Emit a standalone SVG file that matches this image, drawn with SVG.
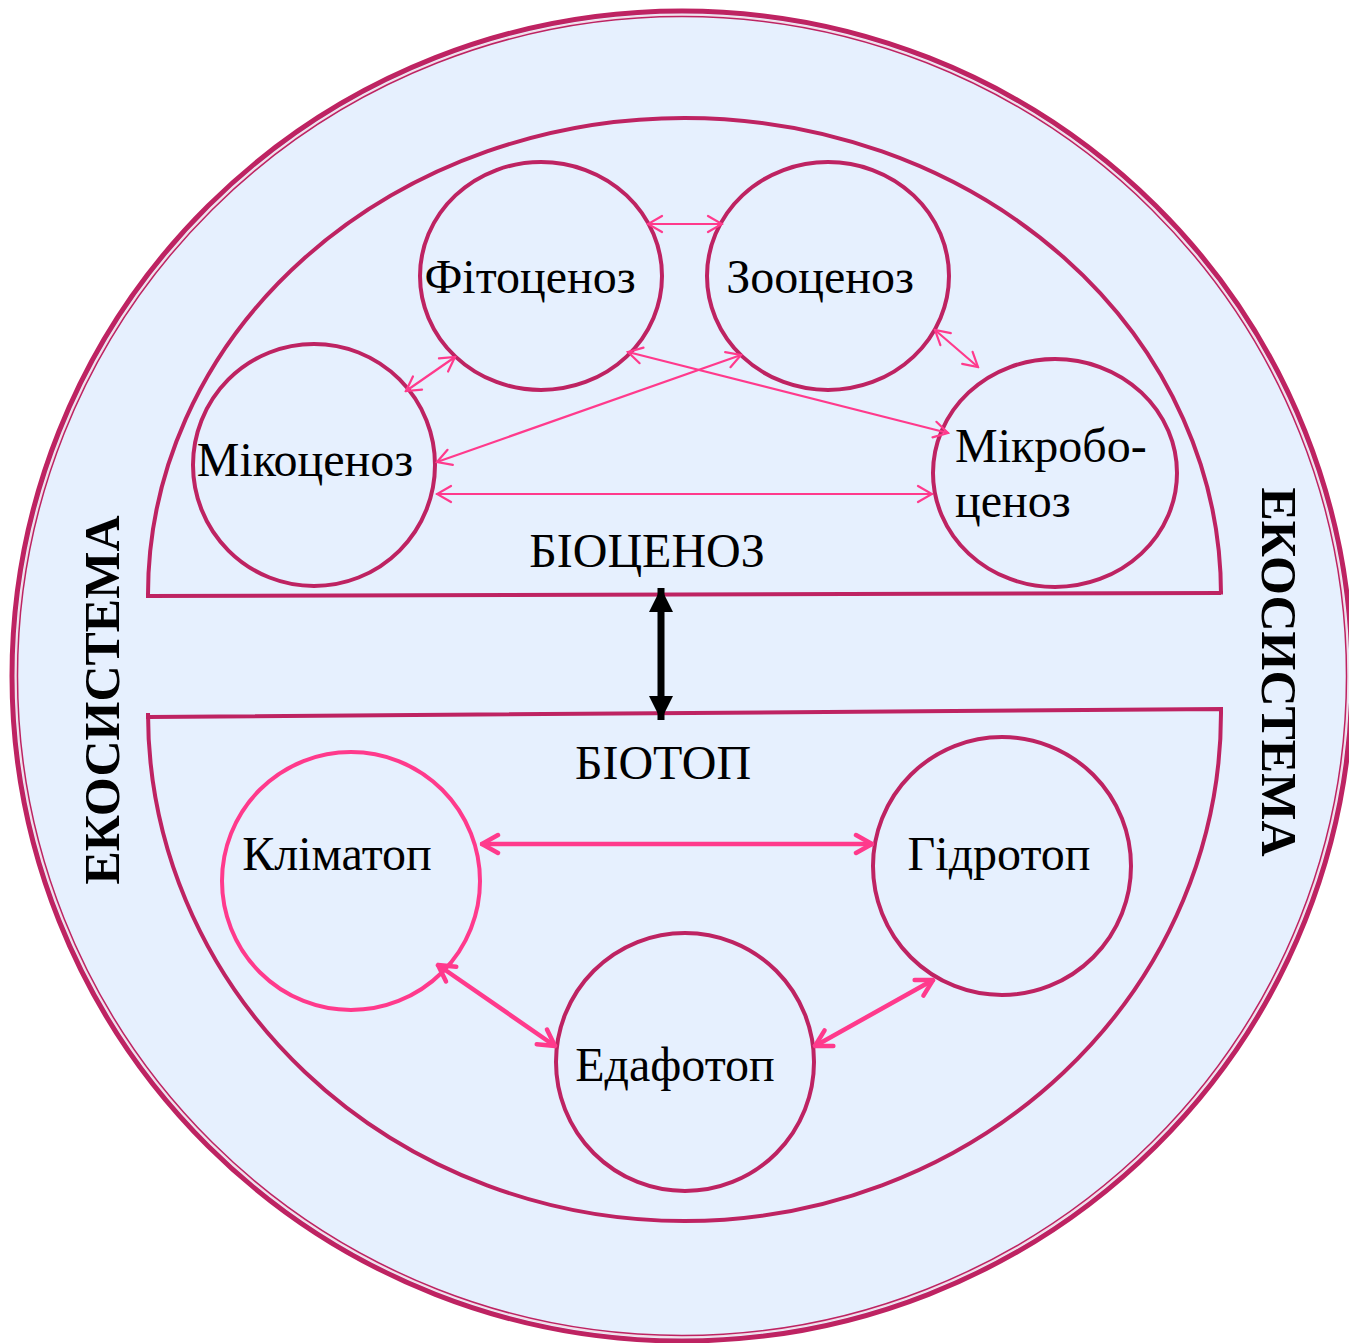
<svg xmlns="http://www.w3.org/2000/svg" width="1349" height="1343" viewBox="0 0 1349 1343">
<style>
.node{fill:none;stroke:#BE2362;stroke-width:4}
.lbl{font-family:"Liberation Serif","Times New Roman",serif;font-size:48px;fill:#000}
.big{font-family:"Liberation Serif","Times New Roman",serif;font-size:50px;font-weight:bold;fill:#000}
.thin{stroke:#FF3A8C;stroke-width:2.2;fill:none;stroke-linecap:round}
.thick{stroke:#FF3A8C;stroke-width:4.5;fill:none;stroke-linecap:round}
</style>
<defs>
<marker id="ot" viewBox="0 0 20 20" refX="18" refY="10" markerWidth="20" markerHeight="20" markerUnits="userSpaceOnUse" orient="auto-start-reverse">
<path d="M4,2 L18,10 L4,18" fill="none" stroke="#FF3A8C" stroke-width="2.2" stroke-linecap="round"/>
</marker>
<marker id="ok" viewBox="0 0 24 24" refX="22" refY="12" markerWidth="24" markerHeight="24" markerUnits="userSpaceOnUse" orient="auto-start-reverse">
<path d="M6,3 L22,12 L6,21" fill="none" stroke="#FF3A8C" stroke-width="4.5" stroke-linecap="round" stroke-linejoin="round"/>
</marker>
<marker id="bk" viewBox="0 0 24 24" refX="24" refY="12" markerWidth="24" markerHeight="24" markerUnits="userSpaceOnUse" orient="auto-start-reverse">
<path d="M0,0 L24,12 L0,24 Z" fill="#000"/>
</marker>
</defs>
<rect width="1349" height="1343" fill="#fff"/>
<g id="ecosystem">
<ellipse cx="682" cy="676" rx="670" ry="665" fill="#E6F0FE" stroke="#BE2362" stroke-width="5"/>
<ellipse cx="682" cy="676" rx="666" ry="661" fill="none" stroke="#F4DCE6" stroke-width="1.5"/>
<ellipse cx="682" cy="676" rx="664.5" ry="659.5" fill="none" stroke="#BE2362" stroke-width="1.5"/>
<text class="big" transform="translate(119,700) rotate(-90)" text-anchor="middle">ЕКОСИСТЕМА</text>
<text class="big" transform="translate(1262,672) rotate(90)" text-anchor="middle">ЕКОСИСТЕМА</text>
</g>
<g id="biocenoz">
<path class="node" d="M148,596 L148,594.5 A536.5,476.5 0 0 1 1221,594.5 L1221,593 Z"/>
<text class="lbl" x="647" y="567" text-anchor="middle">БІОЦЕНОЗ</text>
</g>
<g id="biotop">
<path class="node" d="M148,717 L1221,709 L1221,713 A536.5,508 0 0 1 148,713 Z"/>
<text class="lbl" x="663" y="779" text-anchor="middle">БІОТОП</text>
</g>
<g id="fitocenoz">
<ellipse class="node" cx="541" cy="276" rx="121" ry="114"/>
<text class="lbl" x="530" y="293" text-anchor="middle">Фітоценоз</text>
</g>
<g id="zoocenoz">
<ellipse class="node" cx="828" cy="276" rx="121" ry="114"/>
<text class="lbl" x="820" y="293" text-anchor="middle">Зооценоз</text>
</g>
<g id="mikocenoz">
<ellipse class="node" cx="314" cy="465" rx="121" ry="121"/>
<text class="lbl" x="305" y="476" text-anchor="middle">Мікоценоз</text>
</g>
<g id="mikrobocenoz">
<ellipse class="node" cx="1055" cy="473" rx="122" ry="114"/>
<text class="lbl" x="955" y="462">Мікробо-</text>
<text class="lbl" x="955" y="517">ценоз</text>
</g>
<g id="klimatop">
<circle cx="351" cy="881" r="129" fill="none" stroke="#FF3A8C" stroke-width="4"/>
<text class="lbl" x="337" y="870" text-anchor="middle">Кліматоп</text>
</g>
<g id="gidrotop">
<circle class="node" cx="1002" cy="866" r="129"/>
<text class="lbl" x="999" y="870" text-anchor="middle">Гідротоп</text>
</g>
<g id="edafotop">
<circle class="node" cx="685" cy="1062" r="129"/>
<text class="lbl" x="675" y="1081" text-anchor="middle">Едафотоп</text>
</g>
<g id="connectors">
<line class="thin" x1="648" y1="224" x2="722" y2="224" marker-start="url(#ot)" marker-end="url(#ot)"/>
<line class="thin" x1="406" y1="391" x2="455" y2="357" marker-start="url(#ot)" marker-end="url(#ot)"/>
<line class="thin" x1="935" y1="330" x2="978" y2="367" marker-start="url(#ot)" marker-end="url(#ot)"/>
<line class="thin" x1="437" y1="462" x2="741" y2="355" marker-start="url(#ot)" marker-end="url(#ot)"/>
<line class="thin" x1="628" y1="352" x2="948" y2="433" marker-start="url(#ot)" marker-end="url(#ot)"/>
<line class="thin" x1="437" y1="494" x2="932" y2="494" marker-start="url(#ot)" marker-end="url(#ot)"/>
<line x1="661" y1="588" x2="661" y2="720" stroke="#000" stroke-width="7" marker-start="url(#bk)" marker-end="url(#bk)"/>
<line class="thick" x1="482" y1="844" x2="872" y2="844" marker-start="url(#ok)" marker-end="url(#ok)"/>
<line class="thick" x1="438" y1="965" x2="555" y2="1046" marker-start="url(#ok)" marker-end="url(#ok)"/>
<line class="thick" x1="815" y1="1046" x2="933" y2="980" marker-start="url(#ok)" marker-end="url(#ok)"/>
</g>
</svg>
